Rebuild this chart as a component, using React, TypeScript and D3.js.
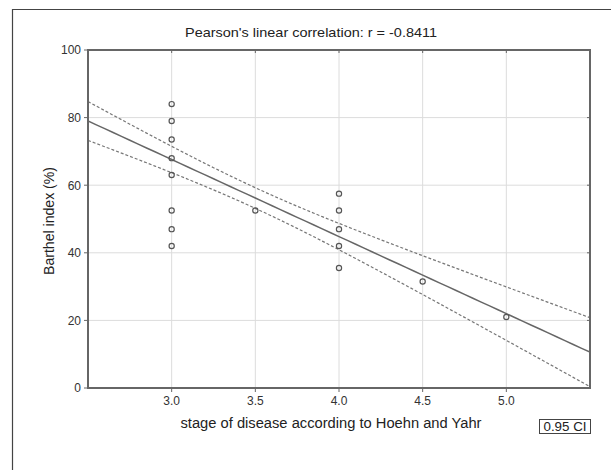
import React from "react";
import * as d3 from "d3";

const title = "Pearson's linear correlation: r = -0.8411";
const xLabel = "stage of disease according to Hoehn and Yahr";
const yLabel = "Barthel index (%)";
const xTicks = [3.0, 3.5, 4.0, 4.5, 5.0];
const yTicks = [0, 20, 40, 60, 80, 100];
const pointsX = [3, 3, 3, 3, 3, 3, 3, 3, 3.5, 4, 4, 4, 4, 4, 4.5, 5];
const pointsY = [84, 79, 73.5, 68, 63, 52.5, 47, 42, 52.5, 57.5, 52.5, 47, 42, 35.5, 31.5, 21];
// regression fit: y = intercept + slope * x
const fitIntercept = 136;
const fitSlope = -22.8;
// 0.95 CI half-width: sqrt(ciA + ciB * (x - ciCenter)^2)
const ciCenter = 3.5;
const ciA = 9.3;
const ciB = 23.7;

const W = 611, H = 470;
const L = 88, R = 590, T = 50, B = 388;

export default function App() {
  const x = d3.scaleLinear().domain([2.5, 5.5]).range([L, R]);
  const y = d3.scaleLinear().domain([0, 100]).range([B, T]);
  const xs = d3.range(0, 61).map((i) => 2.5 + (i * 3) / 60);
  const fit = (v: number) => fitIntercept + fitSlope * v;
  const hw = (v: number) => Math.sqrt(ciA + ciB * (v - ciCenter) ** 2);
  const line = d3
    .line<[number, number]>()
    .x((d) => x(d[0]))
    .y((d) => y(d[1]));
  const fitPath = line(xs.map((v) => [v, fit(v)]))!;
  const upPath = line(xs.map((v) => [v, fit(v) + hw(v)]))!;
  const loPath = line(xs.map((v) => [v, fit(v) - hw(v)]))!;
  const font = "'Liberation Sans', Arial, sans-serif";
  return (
    <>
      <style>{`html,body{margin:0;padding:0;overflow:hidden;}`}</style>
      <svg
        width={W}
        height={H}
        style={{ position: "fixed", left: 0, top: 0, background: "#fff", display: "block" }}
        fontFamily={font}
      >
        <defs>
          <clipPath id="plot">
            <rect x={L} y={T} width={R - L} height={B - T} />
          </clipPath>
        </defs>
        <path d={`M${W},9.5 H12.5 V${H}`} fill="none" stroke="#444" strokeWidth={1.2} />
        <text x={311} y={37} textAnchor="middle" fontSize={13.5} fill="#222" textLength={252} lengthAdjust="spacingAndGlyphs">
          {title}
        </text>
        {xTicks.map((t) => (
          <line key={"gx" + t} x1={x(t)} x2={x(t)} y1={T} y2={B} stroke="#dcdcdc" strokeWidth={1} />
        ))}
        {yTicks.slice(1, -1).map((t) => (
          <line key={"gy" + t} x1={L} x2={R} y1={y(t)} y2={y(t)} stroke="#dcdcdc" strokeWidth={1} />
        ))}
        <g clipPath="url(#plot)" fill="none">
          <path d={upPath} stroke="#777" strokeWidth={1.2} strokeDasharray="3,2" />
          <path d={loPath} stroke="#777" strokeWidth={1.2} strokeDasharray="3,2" />
          <path d={fitPath} stroke="#666" strokeWidth={1.5} />
        </g>
        {pointsX.map((px, i) => (
          <circle key={"p" + i} cx={x(px)} cy={y(pointsY[i])} r={2.6} fill="none" stroke="#555" strokeWidth={1.2} />
        ))}
        <rect x={L} y={T} width={R - L} height={B - T} fill="none" stroke="#666" strokeWidth={2} />
        {xTicks.map((t) => (
          <g key={"tx" + t}>
            <line x1={x(t)} x2={x(t)} y1={B} y2={B + 4} stroke="#666" />
            <line x1={x(t)} x2={x(t)} y1={T} y2={T + 3} stroke="#666" />
            <text x={x(t)} y={404.5} textAnchor="middle" fontSize={12} fill="#333">
              {t.toFixed(1)}
            </text>
          </g>
        ))}
        {yTicks.map((t) => (
          <g key={"ty" + t}>
            <line x1={L - 4} x2={L} y1={y(t)} y2={y(t)} stroke="#666" />
            <line x1={R - 3} x2={R} y1={y(t)} y2={y(t)} stroke="#666" />
            <text x={81} y={y(t) + 4.3} textAnchor="end" fontSize={12} fill="#333">
              {t}
            </text>
          </g>
        ))}
        <text x={331} y={428} textAnchor="middle" fontSize={14} fill="#222" textLength={301} lengthAdjust="spacingAndGlyphs">
          {xLabel}
        </text>
        <text
          transform={`translate(53.5,221) rotate(-90)`}
          textAnchor="middle"
          fontSize={14}
          fill="#222"
          textLength={108}
          lengthAdjust="spacingAndGlyphs"
        >
          {yLabel}
        </text>
        <rect x={539.5} y={419.5} width={51} height={14} fill="#fff" stroke="#444" strokeWidth={1} />
        <text x={565} y={431} textAnchor="middle" fontSize={12} fill="#222" textLength={43} lengthAdjust="spacingAndGlyphs">
          0.95 CI
        </text>
      </svg>
    </>
  );
}
